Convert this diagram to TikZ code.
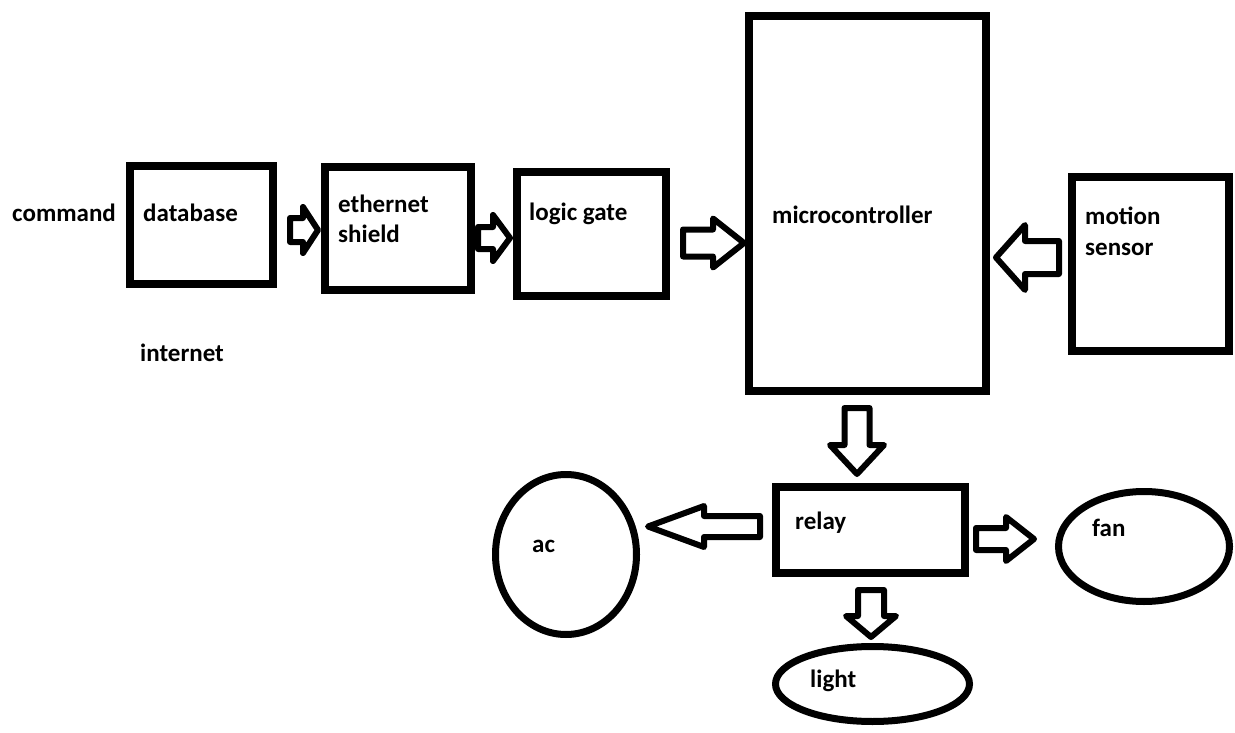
\documentclass[tikz,border=0pt]{standalone}
\usepackage{fontspec}
\setmainfont{Carlito}
\usetikzlibrary{calc,shapes.geometric}
\tikzset{
  box/.style={draw, line width=8pt, rectangle, inner sep=0pt},
  oval/.style={draw, line width=7pt, ellipse, inner sep=0pt},
  lbl/.style={anchor=base west, inner sep=0pt, font=\fontsize{25}{30}\selectfont\bfseries},
  barrow/.style={draw, line width=6pt, line join=round, fill=white},
}
\newcommand\blockarrow[5]{%
  \coordinate (baT) at #1;
  \coordinate (baP) at #2;
  \coordinate (baB) at ($(baP)!#5!(baT)$);
  \draw[barrow] ($(baT)!#3!90:(baP)$) -- ($(baB)!#3!-90:(baT)$) -- ($(baB)!#4!-90:(baT)$)
    -- (baP) -- ($(baB)!#4!90:(baT)$) -- ($(baB)!#3!90:(baT)$) -- ($(baT)!#3!-90:(baP)$) -- cycle;
}
\begin{document}
\begin{tikzpicture}[x=1pt,y=-1pt]
\useasboundingbox (0,0) rectangle (1235,733);
% boxes
\node[box, minimum width=143pt, minimum height=118pt] (db) at (201.5,225) {};
\node[box, minimum width=146pt, minimum height=123pt] (eth) at (398,228.5) {};
\node[box, minimum width=149pt, minimum height=124pt] (logic) at (591.5,234) {};
\node[box, minimum width=237pt, minimum height=375pt] (micro) at (867.5,203.5) {};
\node[box, minimum width=157pt, minimum height=174pt] (motion) at (1150.5,264) {};
\node[box, minimum width=189pt, minimum height=86pt] (relay) at (870.5,530) {};
% ellipses
\node[oval, minimum width=141pt, minimum height=160pt] (ac) at (566,554.5) {};
\node[oval, minimum width=194pt, minimum height=75pt] (light) at (872.5,684) {};
\node[oval, minimum width=171pt, minimum height=110pt] (fan) at (1144,546.5) {};
% labels
\node[lbl] (tcommand) at (12,222) {command};
\node[lbl] (tdb) at (143,222) {database};
\node[lbl] (tinternet) at (140,361) {internet};
\node[lbl] (teth1) at (338,212) {ethernet};
\node[lbl] (teth2) at (338,242) {shield};
\node[lbl] (tlogic) at (529,220) {logic gate};
\node[lbl] (tmicro) at (772,223) {microcontroller};
\node[lbl] (tmot1) at (1085,225) {motion};
\node[lbl] (tmot2) at (1085,255) {sensor};
\node[lbl] (trelay) at (795,529) {relay};
\node[lbl] (tac) at (532,552) {ac};
\node[lbl] (tlight) at (810,687) {light};
\node[lbl] (tfan) at (1092,536) {fan};
% block arrows
\blockarrow{($(db.east)+(13,5)$)}{($(eth.west)+(-3,1.5)$)}{12pt}{23pt}{15pt}
\blockarrow{($(eth.east)+(3,9.5)$)}{($(logic.west)+(-3,4)$)}{11pt}{23pt}{17pt}
\blockarrow{($(logic.east)+(13,9)$)}{($(micro.west)+(-1,39.5)$)}{13.5pt}{24.5pt}{31pt}
\blockarrow{($(motion.west)+(-9,-6.5)$)}{($(micro.east)+(6,54)$)}{16.5pt}{32.5pt}{29pt}
\blockarrow{($(micro.south)+(-10.5,13)$)}{($(relay.north)+(-13.5,-9)$)}{12.5pt}{27pt}{29pt}
\blockarrow{($(relay.west)+(-12,-3.5)$)}{($(ac.east)+(8,-28)$)}{10.5pt}{20.5pt}{56pt}
\blockarrow{($(relay.east)+(7,9)$)}{($(fan.west)+(-21,-7.5)$)}{11pt}{22pt}{28pt}
\blockarrow{($(relay.south)+(0.5,13)$)}{($(light.north)+(-1.5,-6)$)}{13pt}{25pt}{21pt}
\end{tikzpicture}
\end{document}
